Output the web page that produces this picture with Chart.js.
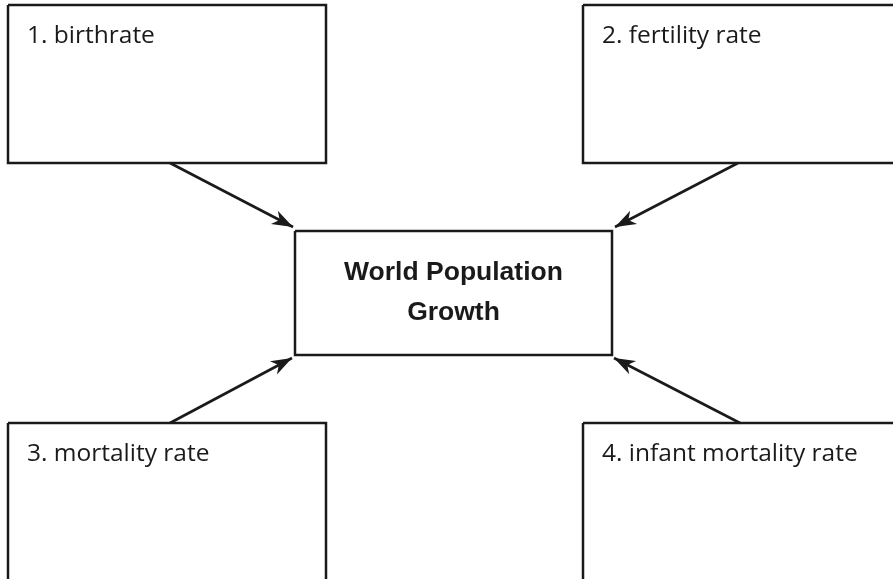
<!DOCTYPE html>
<html lang="en">
<head>
    <meta charset="UTF-8">
    <title>World Population Growth</title>
    <script src="https://cdn.jsdelivr.net/npm/chart.js"></script>
    <style>
        body {
            margin: 0;
            background: #ffffff;
        }
        .wrap {
            width: 893px;
            height: 579px;
        }
    </style>
</head>
<body>
    <div class="wrap"><canvas id="diagram"></canvas></div>

    <script>
        // outer boxes (in diagram units, y grows downward)
        const nodeLabels = ["1. birthrate", "2. fertility rate", "3. mortality rate", "4. infant mortality rate"];
        const nodeLeft = [8, 583, 8, 583];
        const nodeRight = [326, 900, 326, 900];
        const nodeTop = [5, 5, 423, 423];
        const nodeBottom = [163, 163, 590, 590];

        // centre box
        const centerLabel = ["World Population", "Growth"];
        const centerBox = [295, 231, 612, 355]; // left, top, right, bottom

        // arrows: from outer box edge to the centre box corner
        const arrowFrom = [[170, 163], [738, 163], [170, 423], [740, 423]];
        const arrowTo = [[293, 227], [615, 227], [292, 358], [614, 358]];

        const ink = "#1a1a1a";

        function rect(l, t, r, b) {
            return [{x: l, y: t}, {x: r, y: t}, {x: r, y: b}, {x: l, y: b}, {x: l, y: t}];
        }

        let datasets = [];
        nodeLabels.forEach((lbl, i) => {
            datasets.push({
                label: lbl,
                data: rect(nodeLeft[i], nodeTop[i], nodeRight[i], nodeBottom[i]),
                borderColor: ink, borderWidth: 2.5, pointRadius: 0, showLine: true, fill: false, tension: 0
            });
        });
        datasets.push({
            label: centerLabel.join(" "),
            data: rect(centerBox[0], centerBox[1], centerBox[2], centerBox[3]),
            borderColor: ink, borderWidth: 2.5, pointRadius: 0, showLine: true, fill: false, tension: 0
        });
        arrowFrom.forEach((p, i) => {
            datasets.push({
                label: "arrow" + i,
                arrow: true,
                data: [{x: p[0], y: p[1]}, {x: arrowTo[i][0], y: arrowTo[i][1]}],
                borderColor: ink, borderWidth: 2.6, pointRadius: 0, showLine: true, fill: false
            });
        });

        // arrowheads + texts, placed through the chart scales
        const diagramText = {
            id: "diagramText",
            afterDatasetsDraw(chart) {
                const ctx = chart.ctx;
                const xs = chart.scales.x, ys = chart.scales.y;
                ctx.save();
                ctx.fillStyle = ink;

                chart.data.datasets.forEach((ds, i) => {
                    if (!ds.arrow) return;
                    const pts = chart.getDatasetMeta(i).data;
                    const a = pts[0], b = pts[1];
                    const ang = Math.atan2(b.y - a.y, b.x - a.x);
                    const len = 21, half = 7.5, notch = 15;
                    ctx.save();
                    ctx.translate(b.x, b.y);
                    ctx.rotate(ang);
                    ctx.beginPath();
                    ctx.moveTo(0, 0);
                    ctx.lineTo(-len, -half);
                    ctx.lineTo(-notch, 0);
                    ctx.lineTo(-len, half);
                    ctx.closePath();
                    ctx.fill();
                    ctx.restore();
                });

                ctx.textBaseline = "alphabetic";
                ctx.textAlign = "left";
                ctx.font = "24.5px 'Open Sans'";
                nodeLabels.forEach((lbl, i) => {
                    const x = xs.getPixelForValue(nodeLeft[i]) + 19;
                    const y = ys.getPixelForValue(nodeTop[i]) + 38;
                    ctx.fillText(lbl, x, y);
                });

                ctx.textAlign = "center";
                ctx.font = "bold 26.5px 'Liberation Sans'";
                const cx = xs.getPixelForValue((centerBox[0] + centerBox[2]) / 2);
                ctx.fillText(centerLabel[0], cx, ys.getPixelForValue(centerBox[1]) + 49);
                ctx.fillText(centerLabel[1], cx, ys.getPixelForValue(centerBox[1]) + 89);
                ctx.restore();
            }
        };

        new Chart(document.getElementById("diagram"), {
            type: "scatter",
            data: {datasets: datasets},
            options: {
                responsive: true,
                maintainAspectRatio: false,
                animation: false,
                layout: {padding: 0},
                plugins: {legend: {display: false}, tooltip: {enabled: false}},
                scales: {
                    x: {type: "linear", min: 0, max: 893, display: false},
                    y: {type: "linear", min: 0, max: 579, reverse: true, display: false}
                }
            },
            plugins: [diagramText]
        });
    </script>
</body>
</html>
